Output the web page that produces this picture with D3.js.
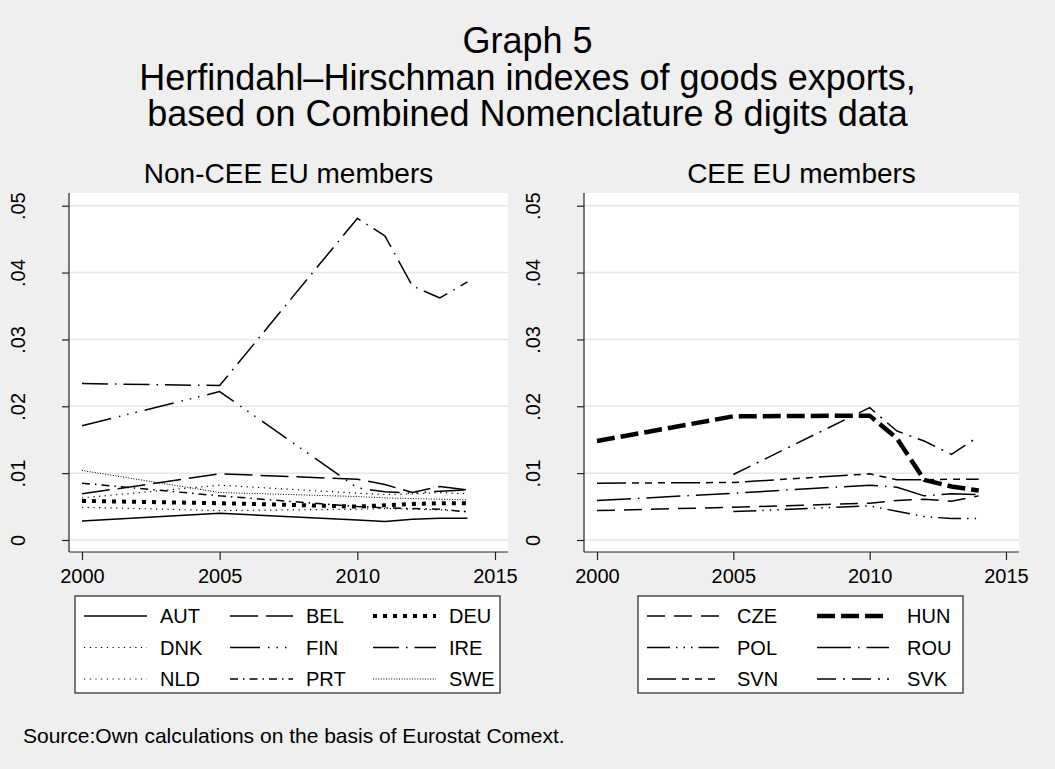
<!DOCTYPE html>
<html>
<head>
<meta charset="utf-8">
<script src="https://cdn.jsdelivr.net/npm/d3@7"></script>
<style>
  body { margin: 0; background: #efefef; }
  svg { display: block; }
  text { font-family: "Liberation Sans", Arial, sans-serif; fill: #000; }
</style>
</head>
<body>
<script>
// Observation years (same for every country).
const years = [2000, 2005, 2010, 2011, 2012, 2013, 2014];

// Non-CEE EU members, HHI values.
const aut = [0.00285, 0.0040, 0.0030, 0.00275, 0.0031, 0.00325, 0.00325];
const bel = [0.0069, 0.0099, 0.0091, 0.0083, 0.0071, 0.0080, 0.0075];
const deu = [0.00585, 0.0055, 0.0050, 0.0052, 0.0054, 0.0055, 0.0055];
const dnk = [0.0063, 0.0082, 0.0070, 0.0068, 0.0069, 0.0071, 0.0069];
const fin = [0.0171, 0.0222, 0.0078, 0.0072, 0.0070, 0.0073, 0.0075];
const ire = [0.0234, 0.0231, 0.0481, 0.0455, 0.0380, 0.0362, 0.0386];
const nld = [0.0049, 0.0044, 0.0046, 0.0047, 0.0046, 0.0045, 0.0043];
const prt = [0.0085, 0.0066, 0.0050, 0.0048, 0.0047, 0.0046, 0.0042];
const swe = [0.0104, 0.0071, 0.0065, 0.0063, 0.0062, 0.0061, 0.0060];

// CEE EU members (null = no observation).
const cze = [0.0044, 0.0049, 0.0055, 0.0059, 0.0061, 0.0058, 0.0066];
const hun = [0.0148, 0.0185, 0.0186, 0.0152, 0.0090, 0.0080, 0.0074];
const pol = [null, 0.00425, 0.0051, 0.0043, 0.0035, 0.0032, 0.0032];
const rou = [0.0059, 0.0070, 0.0082, 0.0079, 0.0066, 0.0069, 0.0068];
const svn = [0.0085, 0.0086, 0.0099, 0.0090, 0.0090, 0.0091, 0.0091];
const svk = [null, 0.0098, 0.0198, 0.0163, 0.0148, 0.0128, 0.0155];

const nonCeeNames = ["AUT", "BEL", "DEU", "DNK", "FIN", "IRE", "NLD", "PRT", "SWE"];
const nonCeeValues = [aut, bel, deu, dnk, fin, ire, nld, prt, swe];
const ceeNames = ["CZE", "HUN", "POL", "ROU", "SVN", "SVK"];
const ceeValues = [cze, hun, pol, rou, svn, svk];

// Axis ticks and labels.
const yTicks = [0, 0.01, 0.02, 0.03, 0.04, 0.05];
const yTickLabels = ["0", ".01", ".02", ".03", ".04", ".05"];
const xTicks = [2000, 2005, 2010, 2015];

const titleLines = [
  "Graph 5",
  "Herfindahl\u2013Hirschman indexes of goods exports,",
  "based on Combined Nomenclature 8 digits data"
];
const panelTitles = ["Non-CEE EU members", "CEE EU members"];
const sourceNote = "Source:Own calculations on the basis of Eurostat Comext.";

// Line patterns (Stata-like), kept apart from the data.
const lineStyle = {
  AUT: {dash: null, width: 1.5},
  BEL: {dash: "28,8", width: 1.5},
  DEU: {dash: "4,6", width: 4},
  DNK: {dash: "1.2,4.5", width: 1.2},
  FIN: {dash: "30,8,1.5,7,1.5,7,1.5,8", width: 1.5},
  IRE: {dash: "26,7,1.5,7", width: 1.5},
  NLD: {dash: "1.2,4.5", width: 1.2},
  PRT: {dash: "8,5,1.5,5", width: 1.5},
  SWE: {dash: "1,1.6", width: 1},
  CZE: {dash: "18,9", width: 1.5},
  HUN: {dash: "18,6", width: 4.5},
  POL: {dash: "23,6,1.5,6,1.5,6,1.5,6", width: 1.5},
  ROU: {dash: "34,7,1.5,7", width: 1.5},
  SVN: {dash: "29,6,7,6,7,6,7,6", width: 1.5},
  SVK: {dash: "19,7,2,7", width: 1.5}
};

const width = 1055, height = 769;
const plotTop = 193, plotBottom = 552;

const svg = d3.select("body").append("svg")
  .attr("width", width)
  .attr("height", height);

svg.append("rect")
  .attr("width", width)
  .attr("height", height)
  .style("fill", "#efefef");

// Title block.
svg.append("g").selectAll("text")
  .data(titleLines)
  .enter().append("text")
  .attr("x", width / 2)
  .attr("y", (d, i) => 53 + i * 36.6)
  .style("text-anchor", "middle")
  .style("font-size", "36px")
  .text(d => d);

svg.append("text")
  .attr("x", 23)
  .attr("y", 743)
  .style("font-size", "21px")
  .text(sourceNote);

function drawPanel(cfg) {
  const g = svg.append("g");

  const x = d3.scaleLinear().domain([2000, 2015]).range([cfg.left + 13, cfg.right - 13]);
  const y = d3.scaleLinear().domain([0, 0.05]).range([540, 205.7]);

  // White plot region.
  g.append("rect")
    .attr("x", cfg.left)
    .attr("y", plotTop)
    .attr("width", cfg.right - cfg.left)
    .attr("height", plotBottom - plotTop)
    .style("fill", "#fff");

  // Horizontal grid lines.
  g.append("g").selectAll("line")
    .data(yTicks)
    .enter().append("line")
    .attr("x1", cfg.left)
    .attr("x2", cfg.right)
    .attr("y1", d => y(d))
    .attr("y2", d => y(d))
    .style("stroke", "#e6e6e6")
    .style("stroke-width", 1.5);

  // Y axis.
  const yAxis = g.append("g")
    .attr("transform", "translate(" + cfg.left + ",0)")
    .call(d3.axisLeft(y).tickValues(yTicks).tickSize(7).tickSizeOuter(0)
      .tickFormat((d, i) => yTickLabels[i]));
  yAxis.select(".domain").remove();
  yAxis.selectAll(".tick line").style("stroke", "#222").style("stroke-width", 1.2);
  yAxis.selectAll(".tick text")
    .attr("x", null)
    .attr("dy", null)
    .attr("transform", "translate(-51,0) rotate(-90)")
    .attr("dominant-baseline", "central")
    .style("text-anchor", "middle")
    .style("font-size", "20px");

  // X axis.
  const xAxis = g.append("g")
    .attr("transform", "translate(0," + plotBottom + ")")
    .call(d3.axisBottom(x).tickValues(xTicks).tickSize(8).tickSizeOuter(0)
      .tickFormat(d3.format("d")));
  xAxis.select(".domain").remove();
  xAxis.selectAll(".tick line").style("stroke", "#222").style("stroke-width", 1.2);
  xAxis.selectAll(".tick text")
    .attr("y", 17)
    .attr("dy", "0.71em")
    .style("font-size", "20px");

  // Axis lines spanning the plot region.
  g.append("line")
    .attr("x1", cfg.left).attr("x2", cfg.left)
    .attr("y1", plotTop).attr("y2", plotBottom)
    .style("stroke", "#222").style("stroke-width", 1.2);
  g.append("line")
    .attr("x1", cfg.left).attr("x2", cfg.right)
    .attr("y1", plotBottom).attr("y2", plotBottom)
    .style("stroke", "#222").style("stroke-width", 1.2);

  // Panel title.
  g.append("text")
    .attr("x", (cfg.left + cfg.right) / 2)
    .attr("y", 183)
    .style("text-anchor", "middle")
    .style("font-size", "28px")
    .text(cfg.title);

  // Series lines.
  const line = d3.line()
    .defined(d => d[1] != null)
    .x(d => x(d[0]))
    .y(d => y(d[1]));

  cfg.names.forEach(function(name, i) {
    const pts = years.map((yr, j) => [yr, cfg.values[i][j]]);
    const st = lineStyle[name];
    g.append("path")
      .datum(pts)
      .attr("d", line)
      .style("fill", "none")
      .style("stroke", "#000")
      .style("stroke-width", st.width)
      .style("stroke-dasharray", st.dash)
      .style("stroke-linejoin", "round");
  });

  // Legend box, entries laid out row by row.
  const lg = g.append("g");
  lg.append("rect")
    .attr("x", cfg.legend.x0)
    .attr("y", 596)
    .attr("width", cfg.legend.x1 - cfg.legend.x0)
    .attr("height", 97)
    .style("fill", "#fff")
    .style("stroke", "#222")
    .style("stroke-width", 1.2);

  const rowY = [616, 647.5, 679];
  const nCols = cfg.legend.cols.length;
  cfg.names.forEach(function(name, i) {
    const kx = cfg.legend.cols[i % nCols];
    const ky = rowY[Math.floor(i / nCols)];
    const st = lineStyle[name];
    lg.append("line")
      .attr("x1", kx).attr("x2", kx + cfg.legend.keyW)
      .attr("y1", ky).attr("y2", ky)
      .style("stroke", "#000")
      .style("stroke-width", st.width)
      .style("stroke-dasharray", st.dash);
    lg.append("text")
      .attr("x", kx + cfg.legend.textOff)
      .attr("y", ky)
      .attr("dy", "0.36em")
      .style("font-size", "20px")
      .text(name);
  });
}

drawPanel({
  left: 69, right: 508,
  title: panelTitles[0],
  names: nonCeeNames, values: nonCeeValues,
  legend: {x0: 75, x1: 500, cols: [84, 230, 373], keyW: 63, textOff: 76}
});

drawPanel({
  left: 584, right: 1019,
  title: panelTitles[1],
  names: ceeNames, values: ceeValues,
  legend: {x0: 638, x1: 963, cols: [647, 817], keyW: 72, textOff: 90}
});
</script>
</body>
</html>
